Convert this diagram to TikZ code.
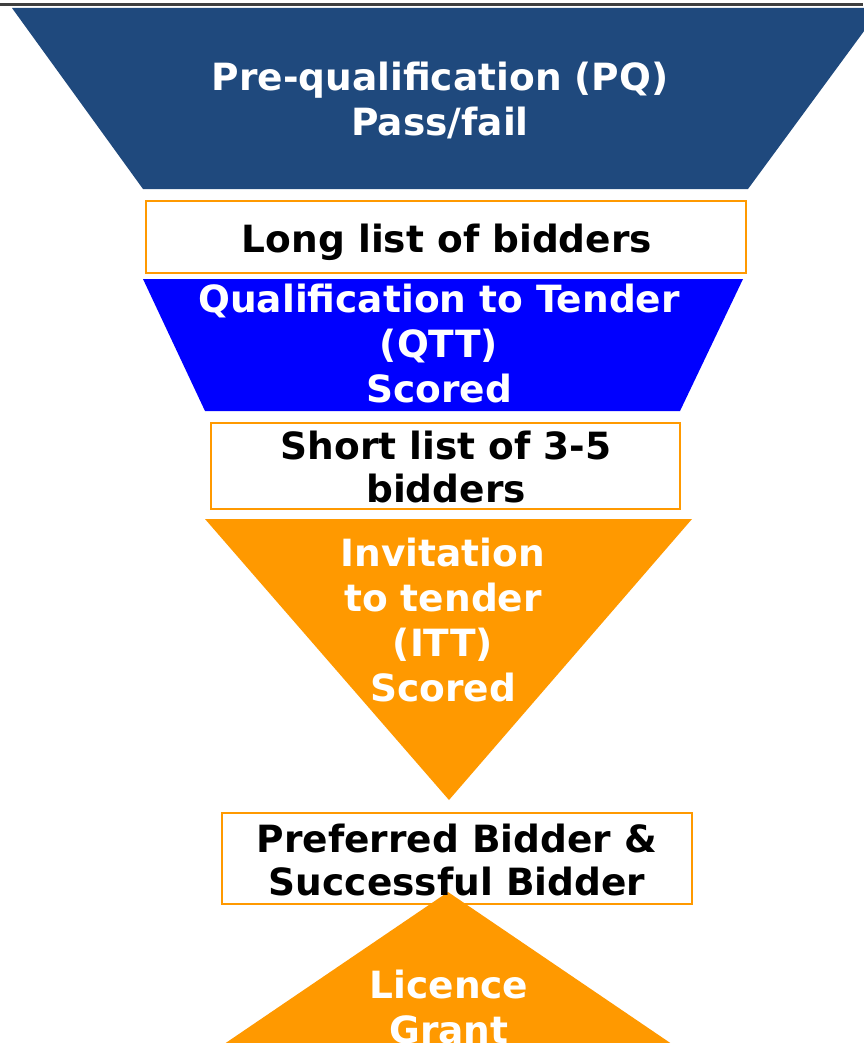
\documentclass[tikz,border=0pt]{standalone}
\usepackage{fontspec}
\setmainfont{DejaVu Sans}
\definecolor{pqblue}{HTML}{1F497D}
\definecolor{qttblue}{HTML}{0000FF}
\definecolor{stageorange}{HTML}{FF9900}
\definecolor{rulegrey}{HTML}{3F3F3F}
\tikzset{
  stagelabel/.style={anchor=north, inner sep=0pt, align=center, text=white,
    font=\fontsize{37.5}{45}\selectfont\bfseries},
  listlabel/.style={anchor=north, inner sep=0pt, align=center, text=black,
    font=\fontsize{37.5}{43}\selectfont\bfseries},
  listbox/.style={draw=stageorange, line width=2pt, fill=white},
}
\begin{document}
\begin{tikzpicture}[x=1pt, y=-1pt]
\useasboundingbox (0,0) rectangle (863,1043);
\fill[white] (0,0) rectangle (863,1043);

% header rule
\draw[rulegrey, line width=3pt] (0,4.5) -- (863,4.5);

% funnel stages
\fill[pqblue] (12,8) -- (881,8) -- (748,189) -- (143,189) -- cycle;
\draw[listbox] (146,201) rectangle (746,273);
\fill[qttblue] (143,279) -- (743,279) -- (680,411) -- (205,411) -- cycle;
\draw[listbox] (211,423) rectangle (680,509);
\fill[stageorange] (205,519) -- (692,519) -- (449,800) -- cycle;
\draw[listbox] (222,813) rectangle (692,904);
\fill[stageorange] (448,892) -- (688,1055) -- (208,1055) -- cycle;

% labels
\node[stagelabel] (pq) at (440,59) {Pre-qualification (PQ)\strut\\Pass/fail\strut};
\node[listlabel] (long) at (447,221.9) {Long list of bidders\strut};
\node[stagelabel] (qtt) at (439,280.5) {Qualification to Tender\strut\\(QTT)\strut\\Scored\strut};
\node[listlabel] (short) at (446,429.4) {Short list of 3-5\strut\\bidders\strut};
\node[stagelabel] (itt) at (443,534.5) {Invitation\strut\\to tender\strut\\(ITT)\strut\\Scored\strut};
\node[listlabel] (pref) at (457,821.9) {Preferred Bidder \&\strut\\Successful Bidder\strut};
\node[stagelabel] (grant) at (449,966.5) {Licence\strut\\Grant\strut};
\end{tikzpicture}
\end{document}
